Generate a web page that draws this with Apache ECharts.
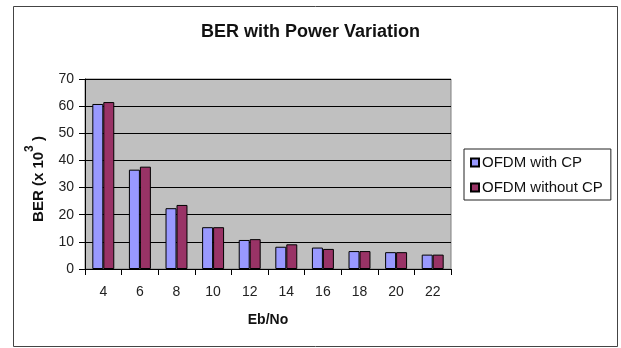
<!DOCTYPE html>
<html><head><meta charset="utf-8">
<script src="https://cdn.jsdelivr.net/npm/echarts@6/dist/echarts.min.js"></script>
<style>html,body{margin:0;padding:0;background:#fff}#c{width:621px;height:348px}</style>
</head><body><div id="c"></div>
<script>
var categories = ['4','6','8','10','12','14','16','18','20','22'];
var withCP = [60.8, 36.6, 22.4, 15.4, 10.7, 8.2, 7.9, 6.6, 6.2, 5.3];
var withoutCP = [61.5, 37.7, 23.6, 15.4, 11.0, 9.1, 7.4, 6.6, 6.2, 5.3];
var seriesNames = ['OFDM with CP', 'OFDM without CP'];
var yTicks = {min: 0, max: 70, interval: 10};

var font = 'Liberation Sans, Arial, sans-serif';
var chart = echarts.init(document.getElementById('c'), null, {renderer: 'canvas'});
chart.setOption({
  animation: false,
  backgroundColor: '#fff',
  textStyle: {fontFamily: font},
  graphic: [{
    type: 'rect', shape: {x: 13.5, y: 6.5, width: 604, height: 340},
    style: {fill: 'none', stroke: '#444', lineWidth: 1}, silent: true, z: -1
  }],
  title: {
    text: 'BER with Power Variation', left: 'center', top: 18,
    textStyle: {fontFamily: font, fontSize: 18, fontWeight: 'bold', color: '#111'}
  },
  legend: {
    orient: 'vertical', left: 464, top: 149,
    itemWidth: 8, itemHeight: 8, itemGap: 10,
    padding: [6, 8, 5, 6],
    borderColor: '#222', borderWidth: 1,
    textStyle: {fontFamily: font, fontSize: 15, color: '#111', padding: [0, 0, 0, -2]},
    data: seriesNames.map(function (n) { return {name: n, icon: 'rect'}; })
  },
  grid: {left: 85, right: 170, top: 79, bottom: 79, show: true, backgroundColor: '#c0c0c0', borderColor: '#808080', borderWidth: 1},
  xAxis: {
    type: 'category', data: categories,
    name: 'Eb/No', nameLocation: 'middle', nameGap: 44,
    nameTextStyle: {fontFamily: font, fontSize: 14, fontWeight: 'bold', color: '#111'},
    axisLine: {lineStyle: {color: '#000', width: 1}},
    axisTick: {show: true, alignWithLabel: false, length: 6, lineStyle: {color: '#000'}},
    axisLabel: {margin: 16, fontFamily: font, fontSize: 14, color: '#222'}
  },
  yAxis: {
    type: 'value', min: yTicks.min, max: yTicks.max, interval: yTicks.interval,
    name: '{a|BER (x 10}{s|3}{b| )}', nameLocation: 'middle', nameGap: 39,
    nameTextStyle: {
      rich: {
        a: {fontFamily: font, fontSize: 15, fontWeight: 'bold', color: '#111', lineHeight: 22, verticalAlign: 'bottom'},
        b: {fontFamily: font, fontSize: 15, fontWeight: 'bold', color: '#111', lineHeight: 22, verticalAlign: 'bottom', padding: [0, 10, 0, 0]},
        s: {fontFamily: font, fontSize: 12, fontWeight: 'bold', color: '#111', lineHeight: 22, verticalAlign: 'top'}
      }
    },
    axisLine: {show: true, lineStyle: {color: '#000', width: 1}},
    axisTick: {show: true, length: 6, lineStyle: {color: '#000'}},
    axisLabel: {margin: 11, fontFamily: font, fontSize: 14, color: '#222'},
    splitLine: {show: true, lineStyle: {color: '#000', width: 1}}
  },
  series: [
    {name: seriesNames[0], type: 'bar', data: withCP, barGap: '0%', barCategoryGap: '40%',
     itemStyle: {color: '#9999ff', borderColor: '#000', borderWidth: 1}},
    {name: seriesNames[1], type: 'bar', data: withoutCP, barGap: '0%', barCategoryGap: '40%',
     itemStyle: {color: '#993366', borderColor: '#000', borderWidth: 1}}
  ]
});
</script></body></html>
